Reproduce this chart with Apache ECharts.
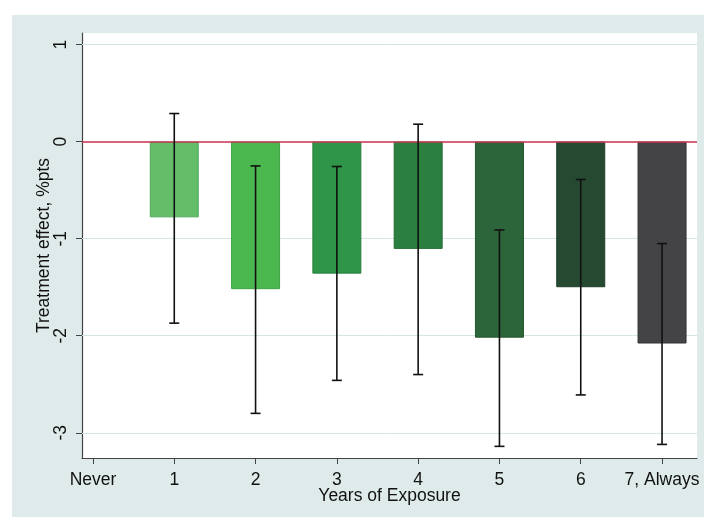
<!DOCTYPE html>
<html>
<head>
<meta charset="utf-8">
<script src="https://cdn.jsdelivr.net/npm/echarts@6/dist/echarts.min.js"></script>
<style>
html,body{margin:0;padding:0;background:#fff;}
#c{width:705px;height:517px;}
</style>
</head>
<body>
<div id="c"></div>
<script>
// Data
const categories = ['Never', '1', '2', '3', '4', '5', '6', '7, Always'];
const exposureYears = [1, 2, 3, 4, 5, 6, 7];
const effects = [-0.78, -1.52, -1.36, -1.105, -2.02, -1.50, -2.08];
const ciUpper = [0.29, -0.25, -0.256, 0.18, -0.91, -0.39, -1.05];
const ciLower = [-1.87, -2.80, -2.46, -2.40, -3.14, -2.61, -3.12];
const yTicks = [-3, -2, -1, 0, 1];
const barColors = ['#63BD69', '#4AB74F', '#2F9548', '#2B8040', '#2C6539', '#264A31', '#444446'];
const barBorders = ['#55A85B', '#3EA344', '#267F3C', '#236E36', '#23552F', '#1E3D28', '#333335'];

const chart = echarts.init(document.getElementById('c'), null, {renderer: 'canvas'});
const font = 'Arial, "Liberation Sans", sans-serif';
const fs = 17.5;

const barData = exposureYears.map((x, i) => ({
  value: [x, effects[i]],
  itemStyle: {color: barColors[i], borderColor: barBorders[i], borderWidth: 1}
}));
const errData = exposureYears.map((x, i) => [x, ciLower[i], ciUpper[i]]);

chart.setOption({
  animation: false,
  backgroundColor: '#ffffff',
  graphic: [{
    type: 'rect', z: -10, silent: true,
    shape: {x: 12, y: 15, width: 692, height: 502},
    style: {fill: '#DFEBEB'}
  }],
  grid: {left: 82, top: 33, right: 8, bottom: 59, show: true, backgroundColor: '#ffffff', borderWidth: 0},
  xAxis: {
    type: 'value', min: -0.135, max: 7.43,
    name: 'Years of Exposure', nameLocation: 'middle', nameGap: 29, nameMoveOverlap: false,
    nameTextStyle: {fontFamily: font, fontSize: fs, color: '#111'},
    axisLine: {show: true, onZero: false, lineStyle: {color: '#444', width: 1.2}},
    axisTick: {show: true, length: 6, lineStyle: {color: '#444'}, customValues: [0,1,2,3,4,5,6,7]},
    axisLabel: {
      customValues: [0,1,2,3,4,5,6,7], margin: 13,
      fontFamily: font, fontSize: fs, color: '#111',
      formatter: v => categories[Math.round(v)]
    },
    splitLine: {show: false}
  },
  yAxis: {
    type: 'value', min: -3.26, max: 1.12,
    name: 'Treatment effect, %pts', nameLocation: 'middle', nameGap: 29, nameMoveOverlap: false,
    nameTextStyle: {fontFamily: font, fontSize: fs, color: '#111'},
    axisLine: {show: true, onZero: false, lineStyle: {color: '#444', width: 1.2}},
    axisTick: {show: true, length: 6, lineStyle: {color: '#444'}, customValues: yTicks},
    axisLabel: {
      customValues: yTicks, rotate: 90, margin: 12,
      fontFamily: font, fontSize: fs, color: '#111'
    },
    splitLine: {show: false}
  },
  series: [
    {
      type: 'line', data: [], z: 1, silent: true,
      markLine: {
        symbol: 'none', silent: true, z: 1, label: {show: false},
        lineStyle: {color: '#D3E6E6', width: 1, type: 'solid'},
        data: yTicks.filter(v => v !== 0).map(v => ({yAxis: v}))
      }
    },
    {
      type: 'bar', data: barData, barWidth: 49, z: 2
    },
    {
      type: 'custom', z: 6, data: errData,
      renderItem: function (params, api) {
        const x = api.value(0);
        const lo = api.coord([x, api.value(1)]);
        const hi = api.coord([x, api.value(2)]);
        const cap = 5;
        const st = {stroke: '#111', lineWidth: 1.6};
        return {
          type: 'group',
          children: [
            {type: 'line', shape: {x1: lo[0], y1: lo[1], x2: hi[0], y2: hi[1]}, style: st},
            {type: 'line', shape: {x1: lo[0]-cap, y1: lo[1], x2: lo[0]+cap, y2: lo[1]}, style: st},
            {type: 'line', shape: {x1: hi[0]-cap, y1: hi[1], x2: hi[0]+cap, y2: hi[1]}, style: st}
          ]
        };
      }
    },
    {
      type: 'line', data: [], z: 5, silent: true,
      markLine: {
        symbol: 'none', silent: true, z: 5, label: {show: false},
        lineStyle: {color: '#C8304E', width: 1.6, type: 'solid'},
        data: [{yAxis: 0}]
      }
    }
  ]
});
</script>
</body>
</html>
